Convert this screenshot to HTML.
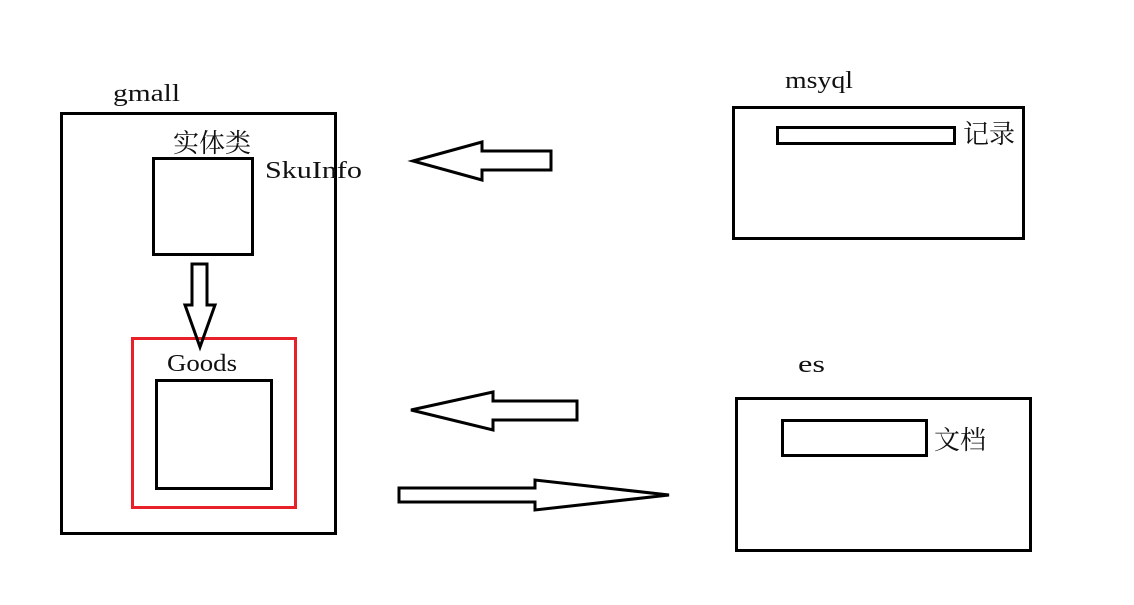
<!DOCTYPE html>
<html><head><meta charset="utf-8"><style>
html,body{margin:0;padding:0;background:#fff;width:1134px;height:605px;overflow:hidden}
svg{display:block}
.lat{font-family:"Liberation Serif","Noto Serif CJK SC",serif;font-size:24px;fill:#111}
.cjk{font-family:"Liberation Serif","Noto Serif CJK SC","Noto Sans CJK SC",serif;font-size:26px;fill:#111}
</style></head><body>
<svg width="1134" height="605" viewBox="0 0 1134 605">
<g fill="none" stroke="#000" stroke-width="3">
<rect x="61.5" y="113.5" width="274" height="420"/>
<rect x="153.5" y="158.5" width="99" height="96"/>
<rect x="132.5" y="338.5" width="163" height="169" stroke="#e8202a"/>
<rect x="156.5" y="380.5" width="115" height="108"/>
<rect x="733.5" y="107.5" width="290" height="131"/>
<rect x="777.5" y="127.5" width="177" height="16"/>
<rect x="736.5" y="398.5" width="294" height="152"/>
<rect x="782.5" y="420.5" width="144" height="35"/>
<polygon points="192,264 207,264 207,305 215,305 200,347 185,305 192,305"/>
<polygon points="413,161 482,142 482,151 551,151 551,170 482,170 482,180"/>
<polygon points="411,410 493,392 493,401 577,401 577,420 493,420 493,430"/>
<polygon points="399,488 535,488 535,480 669,495 535,510 535,502 399,502"/>
</g>
<text class="lat" x="113" y="101" textLength="67" lengthAdjust="spacingAndGlyphs">gmall</text>
<text class="cjk" x="173" y="152">实体类</text>
<text class="lat" x="265" y="178" textLength="97" lengthAdjust="spacingAndGlyphs">SkuInfo</text>
<text class="lat" x="167" y="371" textLength="70" lengthAdjust="spacingAndGlyphs">Goods</text>
<text class="lat" x="785" y="88" textLength="68" lengthAdjust="spacingAndGlyphs">msyql</text>
<text class="cjk" x="963" y="143">记录</text>
<text class="lat" x="798" y="372" textLength="27" lengthAdjust="spacingAndGlyphs">es</text>
<text class="cjk" x="934" y="449">文档</text>
</svg>
</body></html>
